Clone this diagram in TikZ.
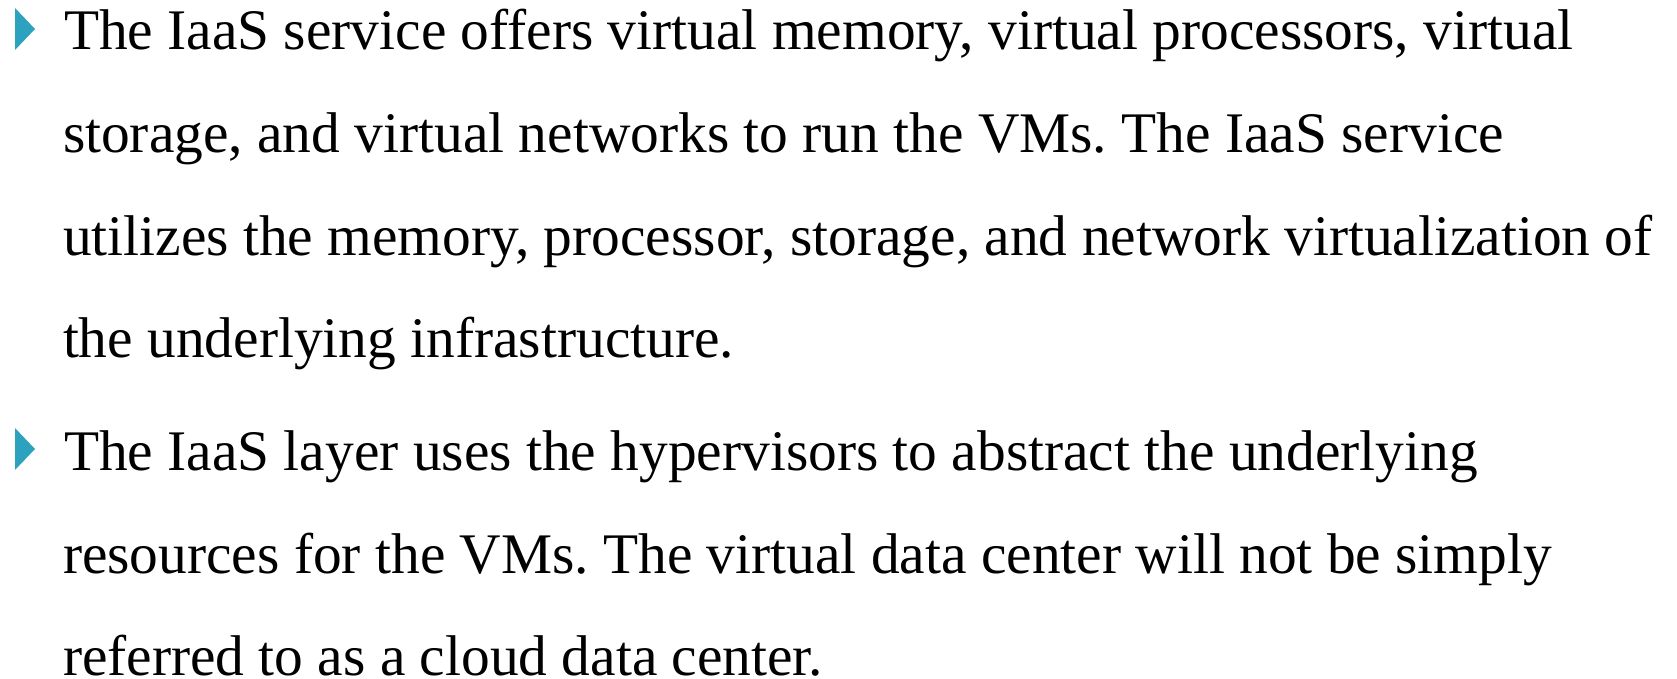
\documentclass[tikz,border=0pt]{standalone}
\usepackage{fontspec}
\setmainfont{Liberation Serif}
\definecolor{bul}{RGB}{44,162,190}
\tikzset{
  txt/.style={anchor=base west, inner sep=0pt, outer sep=0pt, font=\fontsize{57.4}{57.4}\selectfont},
  bulletmark/.style={fill=bul, draw=none}
}
\begin{document}
\frenchspacing
\begin{tikzpicture}[x=1pt,y=-1pt]
\useasboundingbox (0,0) rectangle (1677,679);
\fill[bulletmark] (15,8) -- (35,29) -- (15,50) -- cycle;
\fill[bulletmark] (15,428) -- (35,449) -- (15,470) -- cycle;
\node[txt] (l1) at (64,50) {The IaaS service offers virtual memory, virtual processors, virtual};
\node[txt] (l2) at (63,153) {storage, and virtual networks to run the VMs. The IaaS service};
\node[txt] (l3) at (63,255) {utilizes the memory, processor, storage, and network virtualization of};
\node[txt] (l4) at (63,357) {the underlying infrastructure.};
\node[txt] (l5) at (64,470) {The IaaS layer uses the hypervisors to abstract the underlying};
\node[txt] (l6) at (63,573) {resources for the VMs. The virtual data center will not be simply};
\node[txt] (l7) at (63,675) {referred to as a cloud data center.};
\end{tikzpicture}
\end{document}
